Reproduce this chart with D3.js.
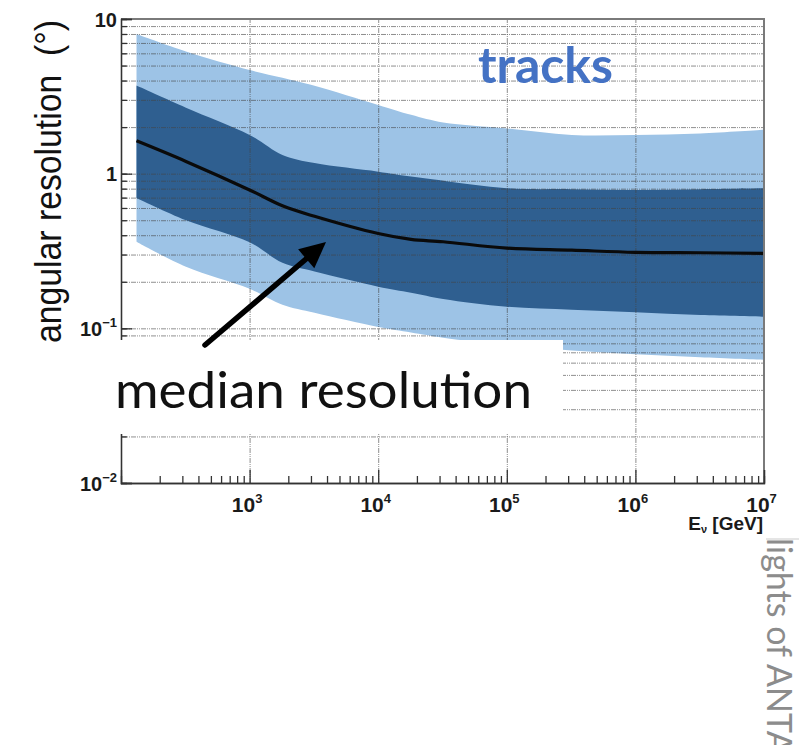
<!DOCTYPE html>
<html lang="en">
<head>
<meta charset="utf-8">
<script src="https://d3js.org/d3.v7.min.js"></script>
<style>
body { margin: 0; background: #fff; }
svg text { font-family: "Liberation Sans", Arial, sans-serif; }
.grid line { stroke: #444; stroke-opacity: 0.6; stroke-width: 1; stroke-dasharray: 5,1,1,1,1,1; }
.grid path { display: none; }
.axis path, .axis line { stroke: #333; stroke-width: 1.3; }
</style>
</head>
<body>
<div id="chart"></div>
<script>
var energy = [132, 320, 1000, 1800, 3200, 1e4, 1.8e4, 3.2e4, 1e5, 3.2e5, 1e6, 3.2e6, 1e7];
// angular resolution (deg)
var median    = [1.63, 1.20, 0.785, 0.62, 0.53, 0.41, 0.376, 0.363, 0.33, 0.32, 0.31, 0.308, 0.305];
var innerHigh = [3.71, 2.67, 1.78, 1.32, 1.17, 1.03, 0.957, 0.90, 0.805, 0.794, 0.785, 0.794, 0.805];
var innerLow  = [0.697, 0.50, 0.36, 0.265, 0.233, 0.186, 0.17, 0.155, 0.138, 0.132, 0.127, 0.122, 0.119];
var outerHigh = [8.0, 6.17, 4.68, 4.17, 3.7, 2.78, 2.40, 2.14, 1.96, 1.78, 1.78, 1.82, 1.92];
var outerLow  = [0.363, 0.25, 0.18, 0.142, 0.126, 0.102, 0.094, 0.087, 0.078, 0.072, 0.068, 0.065, 0.0625];

var xMajor = [1e3, 1e4, 1e5, 1e6, 1e7];
var xMajorExp = ["3", "4", "5", "6", "7"];
var yMajor = [0.01, 0.1, 1, 10];
var yMajorLabel = [["10", "\u22122"], ["10", "\u22121"], ["1", ""], ["10", ""]];

var width = 799, height = 745;
var mLeft = 121, mRight = 764, mTop = 19, mBottom = 483;

var x = d3.scaleLog().domain([1e2, 1e7]).range([mLeft, mRight]);
var y = d3.scaleLog().domain([1e-2, 10]).range([mBottom, mTop]);

var svg = d3.select("#chart").append("svg")
    .attr("width", width)
    .attr("height", height);

var rows = energy.map(function(e, i) {
    return { e: e, m: median[i], ih: innerHigh[i], il: innerLow[i], oh: outerHigh[i], ol: outerLow[i] };
});

// minor values
var xMinor = [];
[1e2, 1e3, 1e4, 1e5, 1e6].forEach(function(d) {
    for (var k = 2; k <= 9; k++) xMinor.push(d * k);
});
var yGrid = [];
[1e-2, 1e-1, 1].forEach(function(d) {
    for (var k = 1; k <= 9; k++) yGrid.push(d * k);
});
yGrid = yGrid.filter(function(v) { return v > 0.0101; });

var curve = d3.curveCatmullRom.alpha(0.5);

// bands
var outerArea = d3.area().curve(curve)
    .x(function(d) { return x(d.e); })
    .y0(function(d) { return y(d.ol); })
    .y1(function(d) { return y(d.oh); });
var innerArea = d3.area().curve(curve)
    .x(function(d) { return x(d.e); })
    .y0(function(d) { return y(d.il); })
    .y1(function(d) { return y(d.ih); });

svg.append("path").datum(rows).attr("d", outerArea).attr("fill", "#9dc3e6");
svg.append("path").datum(rows).attr("d", innerArea).attr("fill", "#2f5f90");

// grid
svg.append("g").attr("class", "grid")
    .attr("transform", "translate(" + mLeft + ",0)")
    .call(d3.axisRight(y).tickValues(yGrid).tickSize(mRight - mLeft).tickFormat(""));
svg.append("g").attr("class", "grid")
    .attr("transform", "translate(0," + mBottom + ")")
    .call(d3.axisTop(x).tickValues([1e3, 1e4, 1e5, 1e6]).tickSize(mBottom - mTop).tickFormat(""));

// median line
svg.append("path").datum(rows)
    .attr("d", d3.line().curve(curve)
        .x(function(d) { return x(d.e); })
        .y(function(d) { return y(d.m); }))
    .attr("fill", "none")
    .attr("stroke", "#0a0a0a")
    .attr("stroke-width", 3.2);

// white label box over the lower part
svg.append("rect")
    .attr("x", 104).attr("y", 340)
    .attr("width", 563 - 104).attr("height", 94)
    .attr("fill", "#fff");

// frame
svg.append("path")
    .attr("d", "M" + mLeft + "," + mTop + "H" + mRight + "V" + mBottom)
    .attr("fill", "none").attr("stroke", "#7a7a7a").attr("stroke-width", 2);

// axes
svg.append("g").attr("class", "axis")
    .attr("transform", "translate(0," + mBottom + ")")
    .call(d3.axisBottom(x).tickValues(xMinor).tickSize(-7).tickFormat(""));
var xAxis = svg.append("g").attr("class", "axis")
    .attr("transform", "translate(0," + mBottom + ")")
    .call(d3.axisBottom(x).tickValues(xMajor).tickSize(-13).tickFormat(""));

xAxis.selectAll(".tick").each(function(d, i) {
    var t = d3.select(this).append("text")
        .attr("y", 29).attr("x", -3).attr("text-anchor", "middle").attr("fill", "#1a1a1a")
        .style("font-size", "21px").style("font-weight", "bold");
    t.append("tspan").text("10");
    t.append("tspan").attr("dy", -9).style("font-size", "13px").text(xMajorExp[i]);
});

svg.append("g").attr("class", "axis")
    .attr("transform", "translate(" + mLeft + ",0)")
    .call(d3.axisLeft(y).tickValues(yGrid).tickSize(-6).tickFormat(""));
var yAxis = svg.append("g").attr("class", "axis")
    .attr("transform", "translate(" + mLeft + ",0)")
    .call(d3.axisLeft(y).tickValues(yMajor).tickSize(-11).tickFormat(""));

// the label box also hides the lower part of the y axis line
svg.append("rect")
    .attr("x", 104).attr("y", 340)
    .attr("width", 30).attr("height", 94)
    .attr("fill", "#fff");

yAxis.selectAll(".tick").each(function(d, i) {
    var lab = yMajorLabel[i];
    var t = d3.select(this).append("text")
        .attr("x", -4).attr("dy", "0.36em").attr("text-anchor", "end").attr("fill", "#1a1a1a")
        .style("font-size", "20px").style("font-weight", "bold");
    t.append("tspan").text(lab[0]);
    if (lab[1]) t.append("tspan").attr("dy", -9).style("font-size", "13px").text(lab[1]);
});

// axis titles
svg.append("text")
    .attr("transform", "translate(61,181.5) rotate(-90)")
    .attr("text-anchor", "middle")
    .attr("textLength", 323).attr("lengthAdjust", "spacingAndGlyphs")
    .style("font-size", "37px").style("white-space", "pre")
    .attr("fill", "#111")
    .text("angular resolution  (\u00b0)");

var xt = svg.append("text")
    .attr("x", 763).attr("y", 530)
    .attr("text-anchor", "end")
    .style("font-size", "19px").style("font-weight", "bold")
    .attr("fill", "#1a1a1a");
xt.append("tspan").text("E");
xt.append("tspan").attr("dy", 3).style("font-size", "11px").text("\u03bd");
xt.append("tspan").attr("dy", -3).text(" [GeV]");

// annotations
svg.append("text")
    .attr("x", 478).attr("y", 83)
    .attr("textLength", 135).attr("lengthAdjust", "spacingAndGlyphs")
    .style("font-family", "Lato, 'Open Sans', sans-serif")
    .style("font-size", "50px").style("font-weight", "bold")
    .attr("fill", "#4472c4")
    .text("tracks");

svg.append("text")
    .attr("x", 115).attr("y", 408)
    .attr("textLength", 417).attr("lengthAdjust", "spacingAndGlyphs")
    .style("font-family", "Lato, 'Open Sans', sans-serif")
    .style("font-size", "51px")
    .attr("fill", "#111")
    .text("median resolution");

// arrow
var tail = [205, 345], tip = [326, 242];
var dx = tip[0] - tail[0], dy = tip[1] - tail[1], len = Math.sqrt(dx * dx + dy * dy);
var ux = dx / len, uy = dy / len, px = -uy, py = ux;
var bx = tip[0] - 26 * ux, by = tip[1] - 26 * uy;
var arrow = svg.append("g");
arrow.append("line")
    .attr("x1", tail[0]).attr("y1", tail[1])
    .attr("x2", bx + 4 * ux).attr("y2", by + 4 * uy)
    .attr("stroke", "#000").attr("stroke-width", 5.5).attr("stroke-linecap", "round");
arrow.append("path")
    .attr("d", "M" + tip[0] + "," + tip[1] +
        "L" + (bx + 12.5 * px) + "," + (by + 12.5 * py) +
        "L" + (bx - 12.5 * px) + "," + (by - 12.5 * py) + "Z")
    .attr("fill", "#000");

// slide side text
svg.append("text")
    .attr("transform", "translate(767,538) rotate(90)")
    .style("font-family", "Lato, 'Open Sans', sans-serif")
    .style("font-size", "34px")
    .attr("fill", "#8c8c8c")
    .text("lights of ANTARES");

svg.append("line")
    .attr("x1", 766).attr("x2", 799).attr("y1", 539).attr("y2", 539)
    .attr("stroke", "#ddd").attr("stroke-width", 1.5);
</script>
</body>
</html>
